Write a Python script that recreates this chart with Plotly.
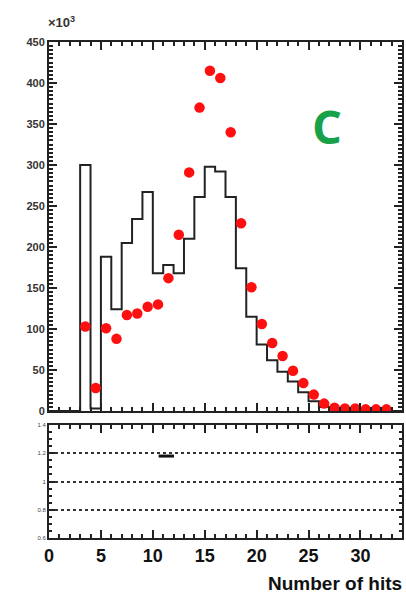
import plotly.graph_objects as go

# ---- data ----
bin_edges = list(range(0, 35))  # integer bin edges 0..34
hist_counts = [0, 0, 0, 300, 3, 188, 124, 205, 234, 267, 168, 178, 168, 210, 261,
               298, 292, 261, 174, 115, 81, 62, 48, 36, 23, 12, 5, 2, 1, 0, 0, 0, 0, 0]
point_bins = list(range(3, 33))
point_counts = [103, 28, 101, 88, 117, 119, 127, 130, 162, 215, 291, 370, 415, 406,
                340, 229, 151, 106, 83, 67, 49, 34, 20, 9, 4, 3, 3, 2, 2, 2]
ratio_bins = [11]
ratio_vals = [1.18]
y_main_ticks = [0, 50, 100, 150, 200, 250, 300, 350, 400, 450]
y_ratio_ticks = [0.6, 0.8, 1.0, 1.2, 1.4]
y_ratio_labels = ["0.6", "0.8", "1", "1.2", "1.4"]
x_ticks = [0, 5, 10, 15, 20, 25, 30]

W, H = 406, 600
fig = go.Figure()

# histogram as step line
step_x = bin_edges
step_y = hist_counts + [hist_counts[-1]]
fig.add_trace(go.Scatter(x=step_x, y=step_y, mode="lines", line=dict(shape="hv", color="#222222", width=2),
                         xaxis="x", yaxis="y", showlegend=False, hoverinfo="skip"))

# red points at bin centers
fig.add_trace(go.Scatter(x=[b + 0.5 for b in point_bins], y=point_counts, mode="markers",
                         marker=dict(color="#ff1010", size=10.5, symbol="circle"),
                         xaxis="x", yaxis="y", showlegend=False))

# ratio marker
fig.add_trace(go.Scatter(x=[b + 0.3 for b in ratio_bins], y=ratio_vals, mode="markers",
                         marker=dict(symbol="line-ew-open", size=11, color="#111111",
                                     line=dict(color="#111111", width=3)),
                         xaxis="x2", yaxis="y2", showlegend=False))

xl, xr = 49 / W, 402 / W
axis_common = dict(showline=True, linecolor="#222222", linewidth=2, mirror="ticks",
                   ticks="inside", tickcolor="#222222", tickwidth=1.5, zeroline=False,
                   automargin=False)

fig.update_layout(
    width=W, height=H,
    margin=dict(l=0, r=0, t=0, b=0),
    paper_bgcolor="white", plot_bgcolor="white",
    font=dict(family="Liberation Sans", color="#222222"),
    xaxis=dict(domain=[xl, xr], range=[0, 34], anchor="y", tickvals=x_ticks, showticklabels=False,
               ticklen=8, minor=dict(ticks="inside", dtick=1, ticklen=4, tickcolor="#222222"),
               showgrid=False, **axis_common),
    yaxis=dict(domain=[1 - 411 / H, 1 - 42 / H], range=[0, 450], anchor="x", tickvals=y_main_ticks,
               ticklen=8, minor=dict(ticks="inside", dtick=5, ticklen=4, tickcolor="#222222"),
               tickfont=dict(size=11, color="#333333", family="Liberation Sans", weight="bold"),
               showgrid=False, **axis_common),
    xaxis2=dict(domain=[xl, xr], range=[0, 34], anchor="y2", tickvals=x_ticks,
                ticklen=8, minor=dict(ticks="inside", dtick=1, ticklen=4, tickcolor="#222222"),
                tickfont=dict(size=18, color="#111111", family="Liberation Sans", weight="bold"),
                showgrid=False, **axis_common),
    yaxis2=dict(domain=[1 - 538 / H, 1 - 425 / H], range=[0.6, 1.4], anchor="x2",
                tickvals=y_ratio_ticks, ticktext=y_ratio_labels, ticklen=6,
                minor=dict(ticks="inside", dtick=0.05, ticklen=3, tickcolor="#222222"),
                tickfont=dict(size=6, color="#444444"),
                showgrid=True, gridcolor="#333333", griddash="dot", gridwidth=1.5, **axis_common),
    annotations=[
        dict(text="×10<sup>3</sup>", x=46 / W, y=1 - 22 / H, xref="paper", yref="paper",
             xanchor="left", yanchor="middle", showarrow=False,
             font=dict(size=13, color="#333333", family="Liberation Sans", weight="bold")),
        dict(text="<b>C</b>", x=26.8, y=348, xref="x", yref="y", showarrow=False,
             font=dict(size=47, color="#17a24a", family="Open Sans")),
        dict(text="<b>Number of hits</b>", x=404 / W, y=1 - 583 / H, xref="paper", yref="paper",
             xanchor="right", yanchor="middle", showarrow=False,
             font=dict(size=19, color="#111111", family="Liberation Sans")),
    ],
)

fig.write_html("out.html", config={"displayModeBar": False},
               post_script="document.body.style.margin='0';document.body.style.overflow='hidden';")
